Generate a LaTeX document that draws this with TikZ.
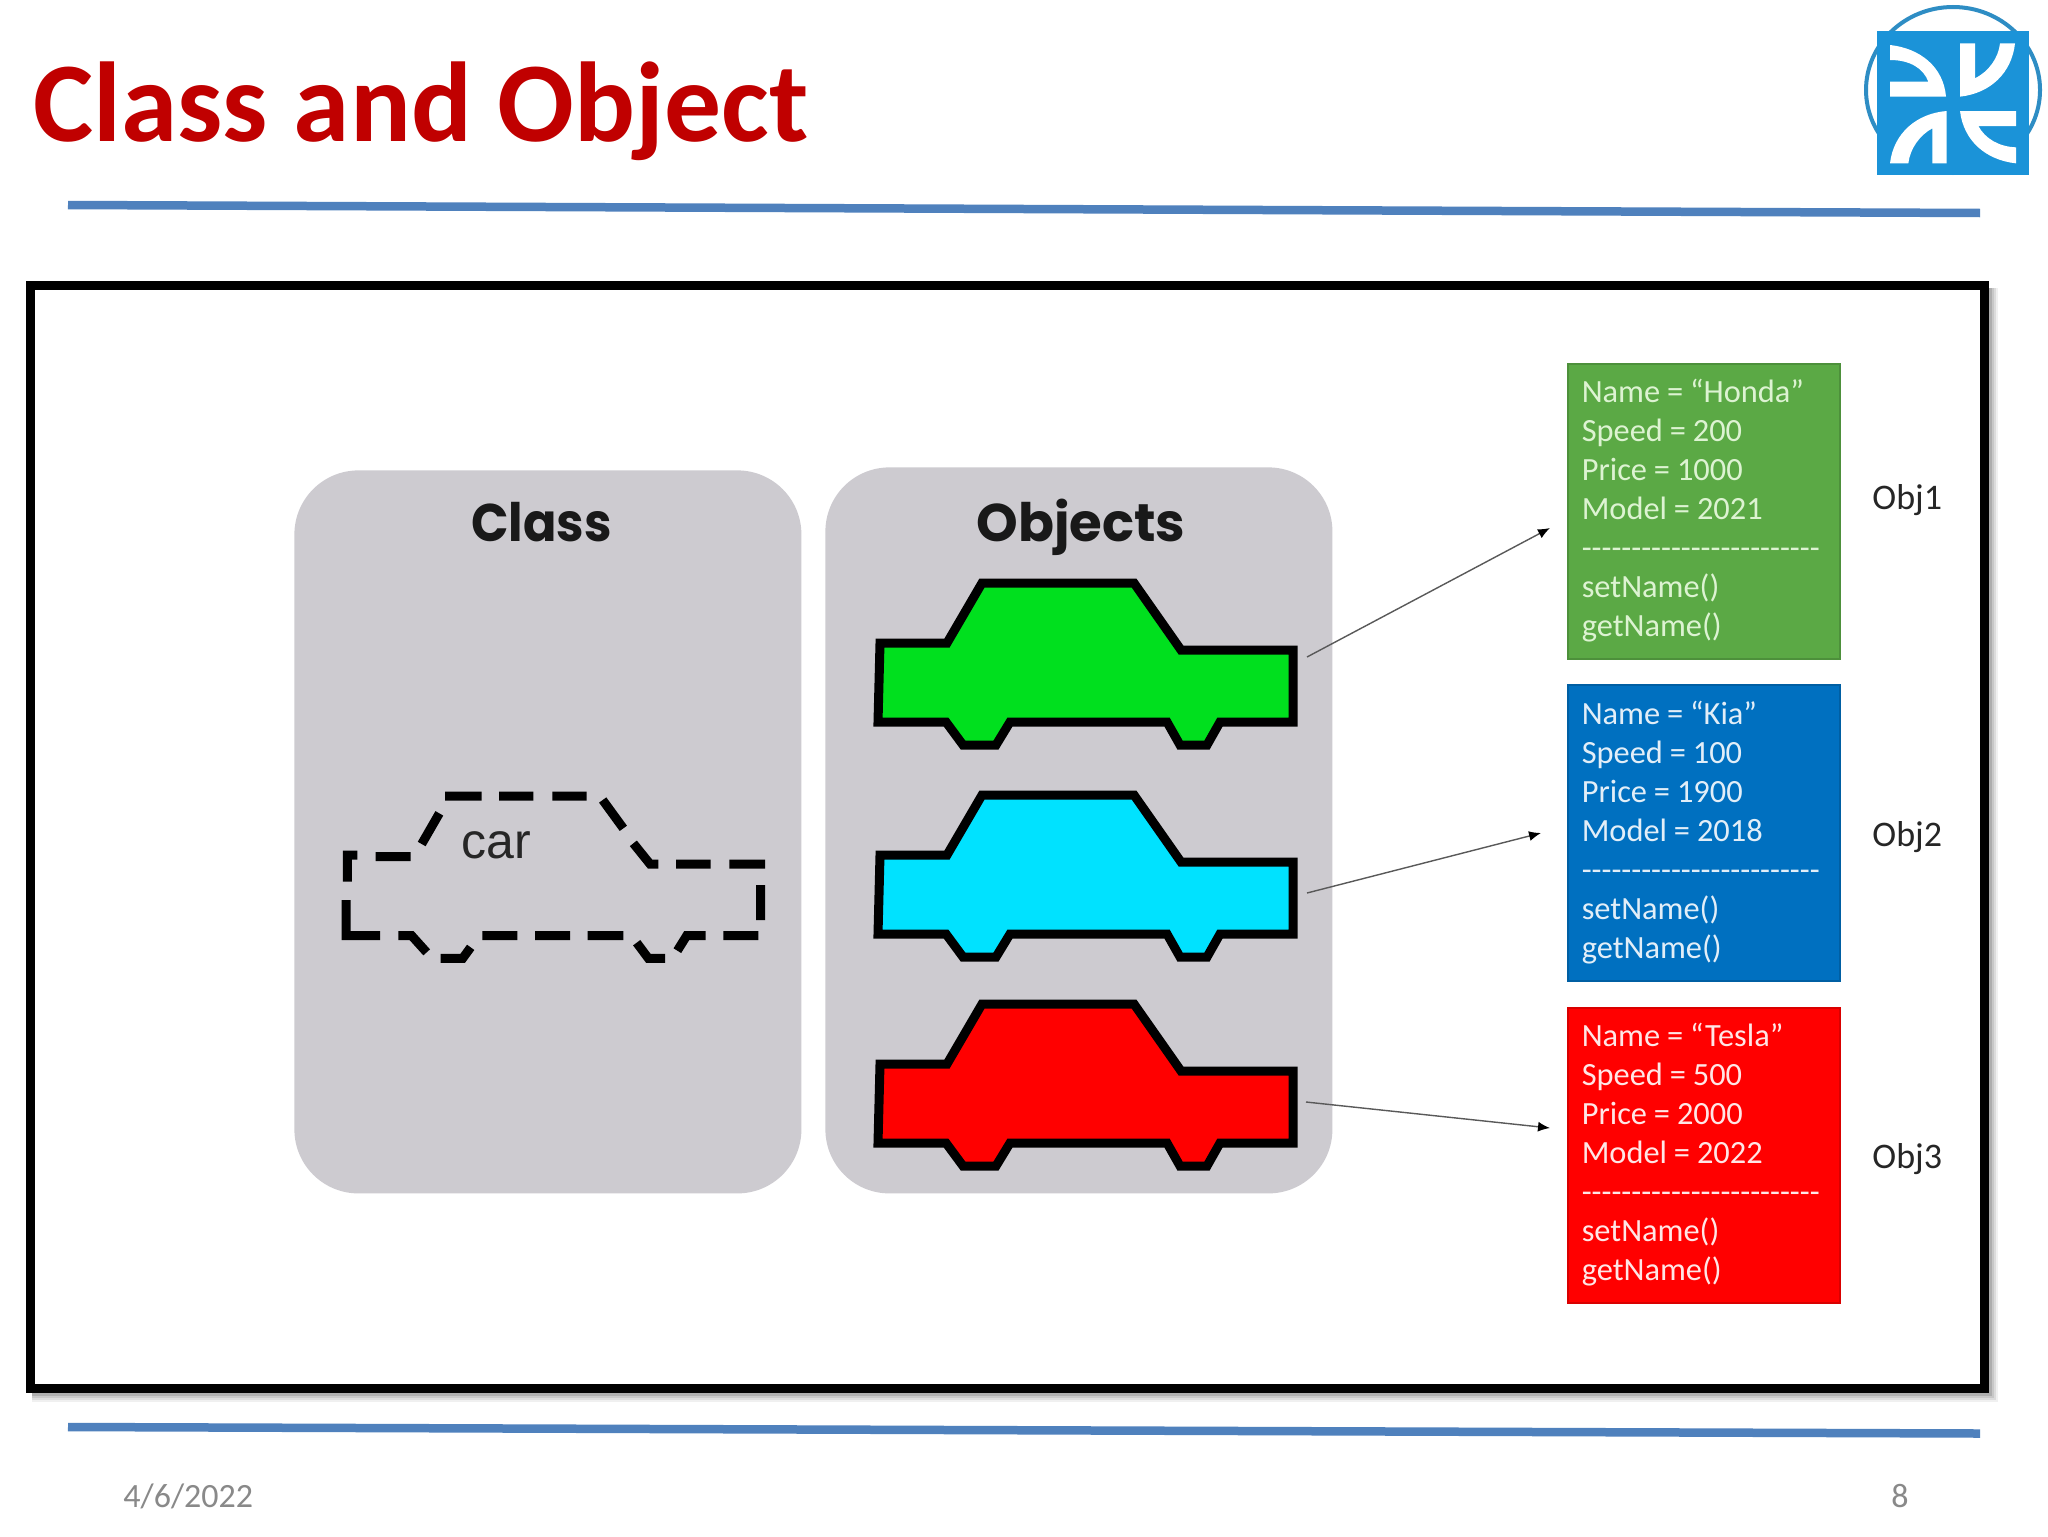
\documentclass[tikz,border=0pt]{standalone}
\usepackage{fontspec}
\setmainfont{Carlito}
\newfontfamily\popfont{Poppins}
\newfontfamily\arialfont{Liberation Sans}
\usetikzlibrary{arrows.meta}
\definecolor{rulecol}{HTML}{4F81BD}
\definecolor{paneltone}{HTML}{CDCBD0}
\definecolor{titlecol}{HTML}{C00000}
\definecolor{greenbox}{HTML}{5BA945}
\definecolor{bluebox}{HTML}{0070C0}
\definecolor{redbox}{HTML}{FF0000}
\definecolor{cargreen}{HTML}{00E01E}
\definecolor{carcyan}{HTML}{00E2FF}
\definecolor{carred}{HTML}{FF0000}
\definecolor{logoblue}{HTML}{1B93D8}
\definecolor{logoring}{HTML}{2E8DC4}
\definecolor{footgrey}{HTML}{898989}
\definecolor{textgreen}{HTML}{DDF3D2}
\definecolor{textblue}{HTML}{E2EEF8}
\definecolor{textred}{HTML}{FFE6E6}
\newcommand{\dashrow}{-{}-{}-{}-{}-{}-{}-{}-{}-{}-{}-{}-{}-{}-{}-{}-{}-{}-{}-{}-{}-{}-{}-{}-}
\newcommand{\fsz}[1]{\fontsize{#1}{#1}\selectfont}
\newcommand{\boxfont}{\fontsize{16.2}{19.5}\selectfont}
\newcommand{\tailstrut}{\rule[-3.4pt]{0pt}{0pt}}
\tikzset{
  panel/.style={fill=paneltone,draw=none,rounded corners=32pt,minimum width=253.5pt,anchor=north west,inner sep=0pt},
  panelhead/.style={anchor=base,inner sep=0pt,font=\popfont\bfseries\fsz{26.5},text=black!90},
  infobox/.style={anchor=north west,minimum width=136pt,text width=122pt,inner xsep=7pt,inner ysep=0pt,align=left,
     font=\boxfont,execute at begin node={\spaceskip=3.45pt\relax},draw=#1!85!black,line width=0.75pt,fill=#1},
  objlabel/.style={anchor=base west,inner sep=0pt,font=\fsz{18},text=black!85},
  foot/.style={anchor=base west,inner sep=0pt,font=\fsz{17},text=footgrey},
  link/.style={draw=black!65,line width=0.7pt,-{Latex[length=6pt,width=5pt,black]}},
  pics/carshape/.style={code={
    \draw[fill=#1,draw=black,line width=4.5pt,miter limit=4]
      (880,643)--(947,643)--(982,583)--(1134,583)--(1181,650)--(1293,650)--(1293,722)--(1220,722)
      --(1207,745)--(1180,745)--(1167,722)--(1010,722)--(996,745)--(963,745)--(946,722)--(878,722)--cycle;
  }}
}
\begin{document}
\begin{tikzpicture}[x=0.5pt,y=-0.5pt]
\useasboundingbox (0,0) rectangle (2048,1536);
\fill[white] (0,0) rectangle (2048,1536);

% title and rules
\node[anchor=base west,inner sep=0pt,font=\bfseries\fsz{56.8},text=titlecol] (title) at (33,141) {Class and Object};
\draw[rulecol,line width=4.25pt] (68,205) -- (1980,213);
\draw[rulecol,line width=4.25pt] (68,1427) -- (1980,1433.5);

% logo
\draw[logoring,line width=2pt,fill=white] (1953,90) ellipse[x radius=87,y radius=83];
\fill[logoblue] (1877,31) rectangle (2029,175);
\begin{scope}[shift={(1800,0)},x=0.16667pt,y=-0.16667pt,fill=white]
  \fill (270,135) .. controls (360,145) and (430,200) .. (438,290) -- (270,290) -- (270,245) -- (385,245)
        .. controls (370,205) and (330,180) .. (270,180) -- cycle;
  \fill (480,130) -- (525,130) -- (525,235) .. controls (565,215) and (595,175) .. (600,130) -- (645,130)
        .. controls (635,220) and (570,280) .. (480,290) -- cycle;
  \fill (480,333) -- (648,333) -- (648,378) -- (535,378) .. controls (555,415) and (595,440) .. (648,442) -- (648,490)
        .. controls (555,480) and (490,420) .. (480,333) -- cycle;
  \fill (440,333) .. controls (350,340) and (280,400) .. (270,490) -- (325,490) .. controls (330,445) and (360,405) .. (397,385)
        -- (397,490) -- (440,490) -- cycle;
\end{scope}

% frame with soft shadow
\foreach \off/\shade in {10/6,8/14,6/22,4/32}{
  \fill[black!\shade] (32,1300) rectangle (1988+\off,1392+\off);
  \fill[black!\shade] (1960,288) rectangle (1988+\off,1392+\off);
}
\draw[black,line width=4.5pt,fill=white] (30,285.5) rectangle (1984,1388);

% panels
\node[panel,minimum height=361.5pt] (classpanel) at (294,470) {};
\node[panel,minimum height=363pt] (objpanel) at (825,467) {};
\node[panelhead] (classhead) at (541.5,541) {\scalebox{0.93}[1]{Class}};
\node[panelhead] (objhead) at (1081,541) {Objects};

% dashed class car
\draw[black,line width=4.5pt,shift={(320,760)},x=0.16667pt,y=-0.16667pt,line join=miter]
  (375,108)--(485,108) (537,108)--(640,108) (697,108)--(800,108)
  (848,120)--(910,205) (940,250)--(990,312)--(1015,312)
  (1068,312)--(1172,312) (1228,312)--(1335,312)
  (1322,375)--(1322,480) (1315,527)--(1210,527)
  (1157,527)--(1100,527)--(1072,572) (1035,595)--(985,595)--(950,548)
  (910,527)--(803,527) (750,527)--(645,527) (592,527)--(487,527)
  (452,562)--(428,595)--(362,595) (320,577)--(275,527)--(235,527)
  (180,527)--(78,527)--(78,420) (82,365)--(82,285)--(112,285)
  (167,290)--(272,290) (305,252)--(358,160);
\node[anchor=base,inner sep=0pt,font=\arialfont\fsz{25},text=black!85] (carlabel) at (496,858) {car};

% object cars
\pic at (0,0) {carshape=cargreen};
\pic at (0,212) {carshape=carcyan};
\pic at (0,421) {carshape=carred};

% info boxes
\node[infobox=greenbox,minimum height=147.5pt,text=textgreen] (box1) at (1567,363)
  {Name = “Honda”\\Speed = 200\\Price = 1000\\Model = 2021\\\dashrow\\setName()\\getName()\tailstrut};
\node[infobox=bluebox,minimum height=148pt,text=textblue] (box2) at (1567,684)
  {Name = “Kia”\\Speed = 100\\Price = 1900\\Model = 2018\\\dashrow\\setName()\\getName()\tailstrut};
\node[infobox=redbox,minimum height=147.5pt,text=textred] (box3) at (1567,1007)
  {Name = “Tesla”\\Speed = 500\\Price = 2000\\Model = 2022\\\dashrow\\setName()\\getName()\tailstrut};

\node[objlabel] (obj1) at (1872,509) {Obj1};
\node[objlabel] (obj2) at (1872,846) {Obj2};
\node[objlabel] (obj3) at (1872,1168) {Obj3};

% connectors
\coordinate (s1) at (1307,657);
\coordinate (e1) at (1550,528);
\coordinate (s2) at (1307,893);
\coordinate (e2) at (1541,833);
\coordinate (s3) at (1306,1102);
\coordinate (e3) at (1550,1128);
\draw[link] (s1) -- (e1);
\draw[link] (s2) -- (e2);
\draw[link] (s3) -- (e3);

% footer
\node[foot] (date) at (123,1507) {4/6/2022};
\node[foot] (page) at (1891,1507) {8};
\end{tikzpicture}
\end{document}
